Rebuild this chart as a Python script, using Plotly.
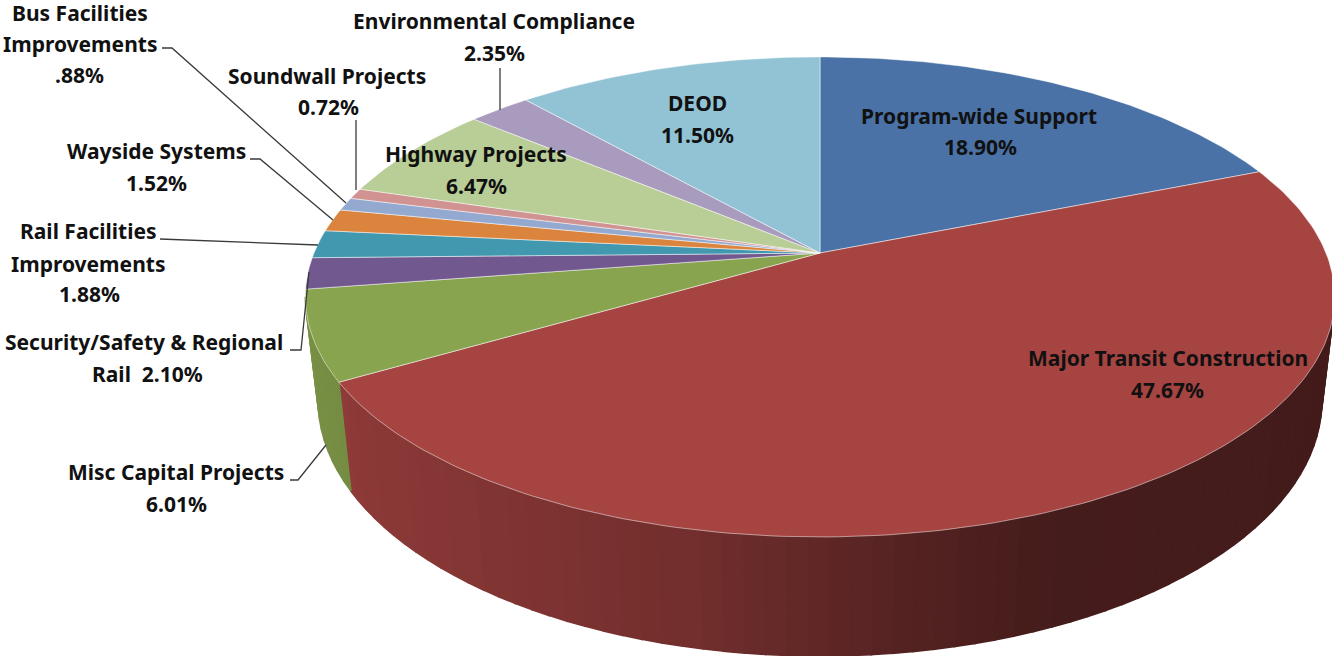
import math
import plotly.graph_objects as go

# ---- data ----
categories = ["Program-wide Support", "Major Transit Construction", "Misc Capital Projects",
              "Security/Safety & Regional Rail", "Rail Facilities Improvements", "Wayside Systems",
              "Bus Facilities Improvements", "Soundwall Projects", "Highway Projects",
              "Environmental Compliance", "DEOD"]
values = [18.90, 47.67, 6.01, 2.10, 1.88, 1.52, 0.88, 0.72, 6.47, 2.35, 11.50]
colors = ["#4A72A7", "#A64442", "#89A44E", "#71588F", "#4198AF", "#DB843D",
          "#93A9CF", "#D19392", "#B9CD96", "#A99BBD", "#91C3D5"]

# label lines: text, centre x, centre y (pixels of the picture)
label_lines = [
    ("Program-wide Support", 979, 116), ("18.90%", 980, 147),
    ("Major Transit Construction", 1168, 358), ("47.67%", 1167, 390),
    ("Misc Capital Projects", 176, 472), ("6.01%", 176, 504),
    ("Security/Safety &amp; Regional", 144, 342), ("Rail  2.10%", 147, 374),
    ("Rail Facilities", 88, 231), ("Improvements", 88, 264), ("1.88%", 89, 294),
    ("Wayside Systems", 156, 151), ("1.52%", 156, 183),
    ("Bus Facilities", 80, 13), ("Improvements", 80, 44), (".88%", 79, 75),
    ("Soundwall Projects", 327, 76), ("0.72%", 328, 107),
    ("Highway Projects", 476, 154), ("6.47%", 476, 186),
    ("Environmental Compliance", 494, 21), ("2.35%", 494, 53),
    ("DEOD", 697, 103), ("11.50%", 697, 135),
]
leaders = [
    ([162, 172, 346], [48, 48, 203]),
    ([356, 356], [120, 190]),
    ([500, 500], [68, 110]),
    ([250, 260, 333], [159, 159, 220]),
    ([160, 318], [239, 245]),
    ([290, 301, 309], [350, 350, 272]),
    ([290, 298, 326], [480, 480, 445]),
]

# ---- perspective pie geometry ----
CX, CY, A, B, K = 820.0, 253.0, 506.0, 232.0, 0.183
WALL_S = 0.975


def top_point(theta):
    u, v = math.sin(theta), math.cos(theta)
    w = 1 + K * v
    return CX + A * u / w, CY - B * v / w


def bottom_point(theta):
    x, y = top_point(theta)
    return CX + (x - CX) * WALL_S, 492 + 1.065 * (y - 383)


def shade(hex_color, f):
    r, g, b = (int(hex_color[i:i + 2], 16) for i in (1, 3, 5))
    return f"rgb({r * f:.0f},{g * f:.0f},{b * f:.0f})"


def wall_factor(x):
    pts = [(300, 0.88), (352, 0.84), (700, 0.68), (900, 0.51), (1040, 0.42), (1340, 0.40)]
    for (x0, f0), (x1, f1) in zip(pts, pts[1:]):
        if x <= x1:
            return f0 + (f1 - f0) * (x - x0) / (x1 - x0)
    return pts[-1][1]


fig = go.Figure()
total = sum(values)
edges = [0.0]
for val in values:
    edges.append(edges[-1] + val / total * 2 * math.pi)

WALL_START = math.radians(100.5)
WALL_END = math.radians(259.5)

# walls
for i, (name, col) in enumerate(zip(categories, colors)):
    a0, a1 = max(edges[i], WALL_START), min(edges[i + 1], WALL_END)
    if a1 <= a0:
        continue
    n = max(2, int((a1 - a0) / math.radians(2)))
    for j in range(n):
        t0 = a0 + (a1 - a0) * j / n
        t1 = a0 + (a1 - a0) * (j + 1) / n
        p = [top_point(t0), top_point(t1), bottom_point(t1), bottom_point(t0), top_point(t0)]
        c = shade(col, wall_factor((p[0][0] + p[1][0]) / 2))
        fig.add_trace(go.Scatter(x=[q[0] for q in p], y=[q[1] for q in p], mode="lines",
                                 fill="toself", fillcolor=c, line=dict(color=c, width=1.6),
                                 hoverinfo="skip", showlegend=False))

# top slices
for i, (name, col) in enumerate(zip(categories, colors)):
    n = max(4, int((edges[i + 1] - edges[i]) / math.radians(1)))
    pts = [top_point(edges[i] + (edges[i + 1] - edges[i]) * j / n) for j in range(n + 1)]
    xs = [CX] + [q[0] for q in pts] + [CX]
    ys = [CY] + [q[1] for q in pts] + [CY]
    fig.add_trace(go.Scatter(x=xs, y=ys, mode="lines", fill="toself", fillcolor=col,
                             line=dict(color="rgba(255,255,255,0.55)", width=0.9),
                             name=name, hoverinfo="name", showlegend=False))

# leader lines
for lx, ly in leaders:
    fig.add_trace(go.Scatter(x=lx, y=ly, mode="lines", line=dict(color="#3a3a3a", width=1.3),
                             hoverinfo="skip", showlegend=False))

annotations = [dict(x=x, y=y, text=f"<b>{t}</b>", showarrow=False, xanchor="center", yanchor="middle",
                    font=dict(family="Noto Sans", size=21, color="#111111"))
               for t, x, y in label_lines]

fig.update_layout(
    width=1332, height=656, margin=dict(l=0, r=0, t=0, b=0),
    paper_bgcolor="white", plot_bgcolor="white",
    xaxis=dict(range=[0, 1332], visible=False, fixedrange=True),
    yaxis=dict(range=[656, 0], visible=False, fixedrange=True),
    annotations=annotations,
)
fig.write_html("out.html", config=dict(displayModeBar=False),
               post_script="document.body.style.margin='0';document.documentElement.style.overflow='hidden';")
